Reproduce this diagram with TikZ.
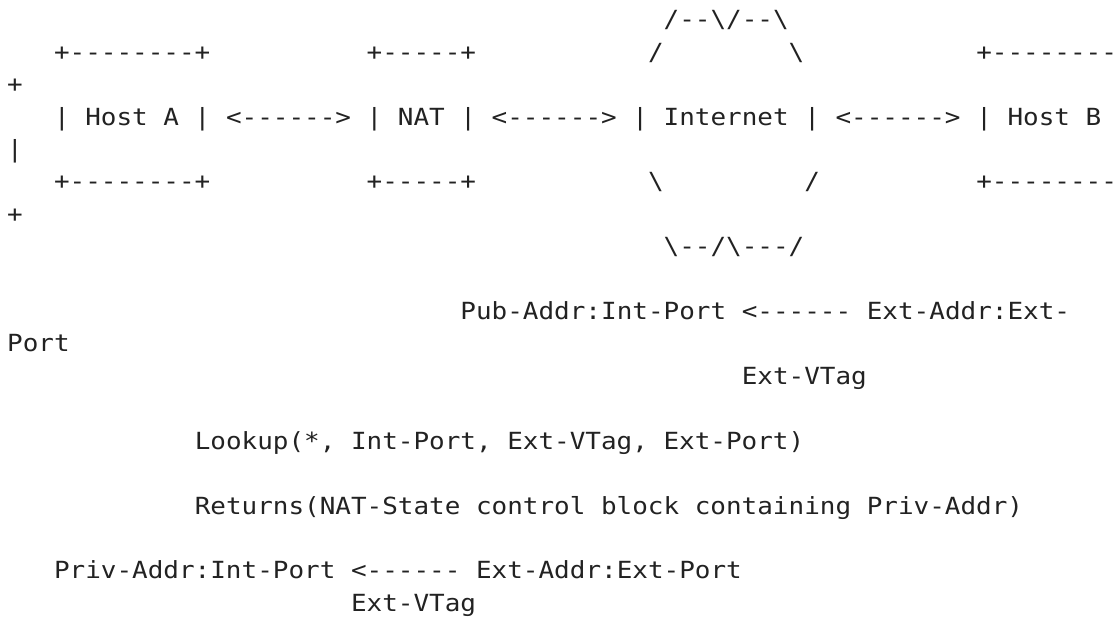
\documentclass[tikz,border=0pt]{standalone}
\usepackage{fontspec}
\setmonofont{DejaVu Sans Mono}[FakeStretch=1.1]
\definecolor{ink}{RGB}{34,34,34}
\newcommand{\bs}{\textbackslash}
\begin{document}
\begin{tikzpicture}[x=1pt,y=-1pt,
  txt/.style={anchor=base west,inner sep=0pt,outer sep=0pt,text=ink,
    font=\fontsize{23.6}{32}\selectfont\ttfamily}]
\useasboundingbox (0,0) rectangle (1114,617);
\def\cw{15.63}
\def\lx{7.2}
\def\rh{32.4}
\def\ry{28}
% helper: place text at column c, row r
\newcommand{\seg}[4]{\node[txt] (#1) at ({\lx+\cw*#3},{\ry+\rh*#2}) {#4};}
% row 0
\seg{cloudtop}{0}{42}{/--\bs/--\bs}
% row 1
\seg{atop}{1}{3}{+--------+}
\seg{nattop}{1}{23}{+-----+}
\seg{cloudul}{1}{41}{/}
\seg{cloudur}{1}{50}{\bs}
\seg{btop}{1}{62}{+--------}
% row 2
\seg{btopwrap}{2}{0}{+}
% row 3
\seg{hosta}{3}{3}{| Host A |}
\seg{arrowone}{3}{14}{<------>}
\seg{nat}{3}{23}{| NAT |}
\seg{arrowtwo}{3}{31}{<------>}
\seg{internet}{3}{40}{| Internet |}
\seg{arrowthree}{3}{53}{<------>}
\seg{hostb}{3}{62}{| Host B}
% row 4
\seg{hostbwrap}{4}{0}{|}
% row 5
\seg{abot}{5}{3}{+--------+}
\seg{natbot}{5}{23}{+-----+}
\seg{cloudll}{5}{41}{\bs}
\seg{cloudlr}{5}{51}{/}
\seg{bbot}{5}{62}{+--------}
% row 6
\seg{bbotwrap}{6}{0}{+}
% row 7
\seg{cloudbot}{7}{42}{\bs--/\bs---/}
% row 9
\seg{pubaddr}{9}{29}{Pub-Addr:Int-Port}
\seg{arrowpub}{9}{47}{<------}
\seg{extaddr}{9}{55}{Ext-Addr:Ext-}
% row 10
\seg{extaddrwrap}{10}{0}{Port}
% row 11
\seg{vtagone}{11}{47}{Ext-VTag}
% row 13
\seg{lookup}{13}{12}{Lookup(*, Int-Port, Ext-VTag, Ext-Port)}
% row 15
\seg{returns}{15}{12}{Returns(NAT-State control block containing Priv-Addr)}
% row 17
\seg{privaddr}{17}{3}{Priv-Addr:Int-Port}
\seg{arrowpriv}{17}{22}{<------}
\seg{extaddrtwo}{17}{30}{Ext-Addr:Ext-Port}
% row 18
\seg{vtagtwo}{18}{22}{Ext-VTag}
\end{tikzpicture}
\end{document}
